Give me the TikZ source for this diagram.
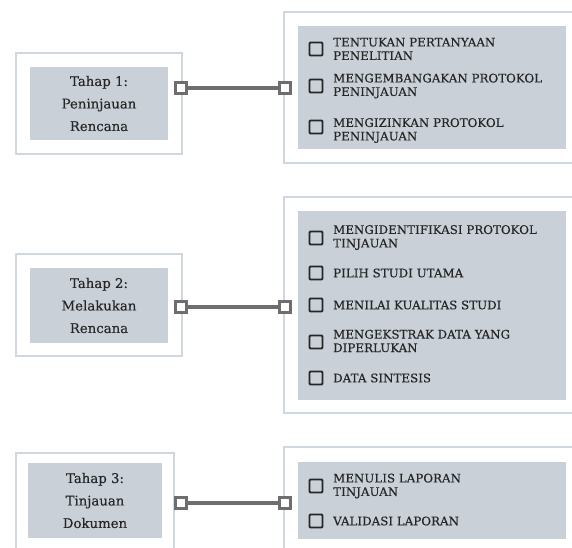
\documentclass[tikz,border=0pt]{standalone}
\usepackage{fontspec}
\newfontfamily\stagefont{DejaVu Serif}[FakeBold=0.3]
\newfontfamily\itemfont{DejaVu Serif}[LetterSpace=0.5,FakeBold=0.4]
\definecolor{outerc}{RGB}{208,215,224}
\definecolor{greyc}{RGB}{201,208,216}
\definecolor{connc}{RGB}{110,110,110}
\definecolor{txtc}{RGB}{38,38,38}
\tikzset{
  outerbox/.style={draw=outerc, line width=2.5pt, fill=white, inner sep=0pt},
  greybox/.style={fill=greyc, inner sep=0pt},
  stagetext/.style={greybox, text=txtc, align=center, font=\stagefont\fontsize{13.3}{22.5}\selectfont},
  endsq/.style={draw=connc, line width=2.6pt, fill=white, minimum size=10.5pt, inner sep=0pt},
  conn/.style={draw=connc, line width=3.2pt},
  cbox/.style={draw=txtc, line width=1.8pt, rounded corners=1pt, minimum size=13pt, inner sep=0pt},
  itemtext/.style={anchor=west, inner sep=0pt, align=left, text=txtc, font=\itemfont\fontsize{11.8}{13.5}\selectfont}
}
\begin{document}
\begin{tikzpicture}[x=1pt,y=-1pt]
\useasboundingbox (0,0) rectangle (572,547);
\clip (0,0) rectangle (572,547);

% ---------- Row 1 ----------
\node[outerbox, minimum width=166pt, minimum height=101pt] (o1) at (99,103.5) {};
\node[stagetext, minimum width=138pt, minimum height=73pt] (s1) at (99,103.5) {Tahap 1:\\Peninjauan\\Rencana};
\node[outerbox, minimum width=320pt, minimum height=151pt] (p1) at (444,87.5) {};
\node[greybox, minimum width=268pt, minimum height=123pt] (g1) at (432,87.5) {};
\node[cbox] (c11) at (316,49) {};
\node[itemtext] (t11) at (333,49) {TENTUKAN PERTANYAAN\\PENELITIAN};
\node[cbox] (c12) at (316,86) {};
\node[itemtext] (t12) at (333,86) {MENGEMBANGAKAN PROTOKOL\\PENINJAUAN};
\node[cbox] (c13) at (316,127) {};
\node[itemtext] (t13) at (333,130.5) {MENGIZINKAN PROTOKOL\\PENINJAUAN};
\node[endsq] (a1) at (181,88) {};
\node[endsq] (b1) at (285,88) {};
\draw[conn] (a1) -- (b1);

% ---------- Row 2 ----------
\node[outerbox, minimum width=166pt, minimum height=102pt] (o2) at (99,305) {};
\node[stagetext, minimum width=138pt, minimum height=75pt] (s2) at (99,305.5) {Tahap 2:\\Melakukan\\Rencana};
\node[outerbox, minimum width=320pt, minimum height=216pt] (p2) at (444,305) {};
\node[greybox, minimum width=268pt, minimum height=189pt] (g2) at (432,305.5) {};
\node[cbox] (c21) at (316,238) {};
\node[itemtext] (t21) at (333,237.5) {MENGIDENTIFIKASI PROTOKOL\\TINJAUAN};
\node[cbox] (c22) at (316,273) {};
\node[itemtext] (t22) at (333,273) {PILIH STUDI UTAMA};
\node[cbox] (c23) at (316,305) {};
\node[itemtext] (t23) at (333,305) {MENILAI KUALITAS STUDI};
\node[cbox] (c24) at (316,342) {};
\node[itemtext] (t24) at (333,341) {MENGEKSTRAK DATA YANG\\DIPERLUKAN};
\node[cbox] (c25) at (316,378) {};
\node[itemtext] (t25) at (333,378) {DATA SINTESIS};
\node[endsq] (a2) at (181,307) {};
\node[endsq] (b2) at (285,307) {};
\draw[conn] (a2) -- (b2);

% ---------- Row 3 ----------
\node[outerbox, minimum width=158pt, minimum height=120pt] (o3) at (95,513) {};
\node[stagetext, minimum width=134pt, minimum height=75pt] (s3) at (95,500.5) {Tahap 3:\\Tinjauan\\Dokumen};
\node[outerbox, minimum width=320pt, minimum height=120pt] (p3) at (444,507) {};
\node[greybox, minimum width=268pt, minimum height=77pt] (g3) at (432,500.5) {};
\node[cbox] (c31) at (316,486) {};
\node[itemtext] (t31) at (333,486) {MENULIS LAPORAN\\TINJAUAN};
\node[cbox] (c32) at (316,521) {};
\node[itemtext] (t32) at (333,521) {VALIDASI LAPORAN};
\node[endsq] (a3) at (181,503) {};
\node[endsq] (b3) at (285,503) {};
\draw[conn] (a3) -- (b3);
\end{tikzpicture}
\end{document}
